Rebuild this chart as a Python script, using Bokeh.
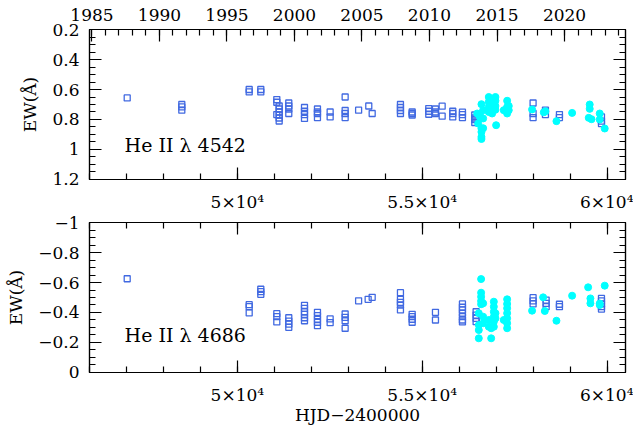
from bokeh.plotting import figure
from bokeh.layouts import column
from bokeh.models import (Range1d, LinearAxis, SingleIntervalTicker,
                          CustomJSTickFormatter, Label)
from bokeh.embed import file_html
from bokeh.resources import INLINE

# He II 4542 - open squares (older spectra)
hjd_sq_4542 = [47020, 48497, 48497, 48497, 50320, 50320, 50634, 50634,
               51067, 51067, 51067, 51131, 51131, 51131, 51131, 51131, 51131,
               51391, 51391, 51391, 51391, 51816, 51816, 51816, 51816,
               52167, 52167, 52167, 52167, 52510, 52510,
               52916, 52916, 52916, 52916, 53280, 53555, 53647,
               54412, 54412, 54412, 54412, 54729, 54729, 54729,
               55178, 55178, 55178, 55359, 55359, 55359, 55540, 55540,
               55827, 55827, 55827, 56089, 56089, 56089,
               56422, 56422, 56422, 56422, 58000, 58000, 58000,
               58334, 58334, 58713, 58713, 59850, 59850, 59850]
ew_sq_4542 = [0.656, 0.700, 0.716, 0.738, 0.600, 0.616, 0.600, 0.616,
              0.667, 0.685, 0.767, 0.710, 0.730, 0.750, 0.770, 0.790, 0.810,
              0.690, 0.710, 0.730, 0.760, 0.720, 0.745, 0.767, 0.793,
              0.730, 0.750, 0.760, 0.787, 0.750, 0.783,
              0.650, 0.740, 0.760, 0.787, 0.738, 0.710, 0.760,
              0.700, 0.720, 0.740, 0.760, 0.750, 0.760, 0.770,
              0.727, 0.745, 0.765, 0.730, 0.750, 0.760, 0.711, 0.778,
              0.745, 0.760, 0.783, 0.751, 0.767, 0.787,
              0.770, 0.790, 0.800, 0.820, 0.690, 0.760, 0.787,
              0.738, 0.767, 0.767, 0.787, 0.783, 0.811, 0.827]

# He II 4542 - filled circles (recent spectra)
hjd_ci_4542 = [56487, 56514, 56560, 56560, 56603, 56603, 56603, 56603, 56603,
               56649, 56649, 56649,
               56801, 56801, 56801, 56801, 56892, 56892, 56892,
               56981, 56981, 56981, 56981, 57000,
               57206, 57298, 57298, 57298, 57342, 57342,
               57973, 58290, 58334, 58632, 59056, 59505, 59532, 59532,
               59580, 59803, 59803, 59938]
ew_ci_4542 = [0.760, 0.827, 0.765, 0.783, 0.698, 0.860, 0.883, 0.916, 0.930,
              0.738, 0.793, 0.858,
              0.650, 0.683, 0.716, 0.750, 0.693, 0.727, 0.760,
              0.650, 0.675, 0.710, 0.735, 0.838,
              0.738, 0.675, 0.716, 0.760, 0.710, 0.738,
              0.733, 0.752, 0.745, 0.811, 0.756, 0.789, 0.700, 0.729,
              0.798, 0.760, 0.800, 0.860]

# He II 4686 - open squares
hjd_sq_4686 = [47020, 50320, 50320, 50320, 50634, 50634, 50634,
               51067, 51067, 51067, 51391, 51391, 51391, 51391,
               51816, 51816, 51816, 51816, 51816, 51816,
               52167, 52167, 52167, 52167, 52167, 52510, 52510,
               52916, 52916, 52916, 52916, 53280, 53538, 53647,
               54412, 54412, 54412, 54412, 54412, 54729, 54729, 54729, 54729,
               55359, 55359, 56089, 56089, 56089, 56089, 56089, 56089, 56089,
               56459, 56459, 56459, 56459, 58000, 58000, 58000,
               58353, 58353, 58353, 58713, 58713,
               59850, 59850, 59850, 59850, 59850]
ew_sq_4686 = [-0.625, -0.452, -0.439, -0.397, -0.555, -0.539, -0.521,
              -0.392, -0.372, -0.337, -0.365, -0.343, -0.323, -0.301,
              -0.448, -0.428, -0.405, -0.388, -0.365, -0.345,
              -0.401, -0.379, -0.355, -0.335, -0.312, -0.357, -0.332,
              -0.390, -0.368, -0.345, -0.295, -0.478, -0.488, -0.501,
              -0.532, -0.488, -0.468, -0.450, -0.417, -0.388, -0.372, -0.355, -0.335,
              -0.401, -0.350, -0.457, -0.435, -0.417, -0.395, -0.372, -0.350, -0.337,
              -0.405, -0.383, -0.361, -0.339, -0.499, -0.477, -0.457,
              -0.483, -0.461, -0.439, -0.455, -0.439,
              -0.494, -0.477, -0.457, -0.439, -0.423]

# He II 4686 - filled circles
hjd_ci_4686 = [56531, 56531, 56531, 56531, 56594, 56594, 56594, 56594, 56594,
               56649, 56649, 56649, 56802, 56802, 56866, 56866,
               56938, 56938, 56938, 56938, 56938, 56938, 56982, 56982,
               57206, 57298, 57298, 57298, 57298, 57298, 57298, 57298,
               57973, 58272, 58317, 58632, 59056, 59489, 59551, 59551,
               59803, 59803, 59938]
ew_ci_4686 = [-0.395, -0.317, -0.283, -0.228, -0.623, -0.532, -0.505, -0.477, -0.455,
              -0.461, -0.372, -0.328, -0.350, -0.305, -0.228, -0.295,
              -0.472, -0.439, -0.405, -0.372, -0.339, -0.305, -0.395, -0.361,
              -0.350, -0.488, -0.457, -0.428, -0.395, -0.361, -0.328, -0.295,
              -0.412, -0.501, -0.410, -0.345, -0.512, -0.568, -0.494, -0.461,
              -0.450, -0.460, -0.579]

HJD_MIN, HJD_MAX = 46000, 60500
JD_1985 = 46066.5  # HJD-2400000 at 1985.0

FONT = "DejaVu Serif"
BLUE = "#4169e1"
CYAN = "#00ffff"

xfmt = CustomJSTickFormatter(code="return (tick/1e4) + '\u00d710\u2074';")
yfmt = CustomJSTickFormatter(code="""
const v = Math.round(tick*10)/10;
return v < 0 ? '\u2212' + (-v) : '' + v;
""")
nofmt = CustomJSTickFormatter(code="return '';")


def style_axis(ax, fmt, standoff=6):
    ax.formatter = fmt
    ax.major_tick_in = 12
    ax.major_tick_out = 0
    ax.minor_tick_in = 6
    ax.minor_tick_out = 0
    ax.axis_line_color = "black"
    ax.axis_line_width = 1.2
    ax.major_tick_line_width = 1.2
    ax.minor_tick_line_width = 1.2
    ax.major_label_text_font = FONT
    ax.major_label_text_font_size = "17px"
    ax.major_label_text_color = "black"
    ax.major_label_standoff = standoff
    ax.axis_label_text_font = FONT
    ax.axis_label_text_font_size = "17px"
    ax.axis_label_text_font_style = "normal"
    ax.axis_label_text_color = "black"
    ax.axis_label_standoff = -3


def xtick():
    return SingleIntervalTicker(interval=5000, num_minor_ticks=5)


def ytick():
    return SingleIntervalTicker(interval=0.2, num_minor_ticks=4)


def panel(ymin, ymax, top_years, bottom_title, btop):
    # small pad so the end ticks survive float rounding
    p = figure(frame_width=536, frame_height=150,
               x_range=Range1d(HJD_MIN, HJD_MAX),
               y_range=Range1d(ymax + 1e-6, ymin - 1e-6),
               x_axis_location=None, y_axis_location=None,
               toolbar_location=None, output_backend="svg",
               min_border_left=89, min_border_right=8,
               min_border_top=btop, min_border_bottom=0)
    p.xgrid.visible = False
    p.ygrid.visible = False
    p.outline_line_color = "black"
    p.outline_line_width = 1.2
    p.background_fill_color = "white"

    if top_years:
        y0 = 1985 + (HJD_MIN - JD_1985) / 365.25
        y1 = 1985 + (HJD_MAX - JD_1985) / 365.25
        p.extra_x_ranges = {"yr": Range1d(y0, y1)}
        top = LinearAxis(x_range_name="yr",
                         ticker=SingleIntervalTicker(interval=5, num_minor_ticks=5))
        style_axis(top, CustomJSTickFormatter(code="return '' + Math.round(tick);"), 9)
    else:
        top = LinearAxis(ticker=xtick())
        style_axis(top, nofmt, 0)
    p.add_layout(top, "above")

    bot = LinearAxis(ticker=xtick())
    style_axis(bot, xfmt, 12)
    if bottom_title:
        bot.axis_label = "HJD\u22122400000"
    p.add_layout(bot, "below")

    left = LinearAxis(ticker=ytick(), axis_label="EW(\u00c5)")
    style_axis(left, yfmt, 10)
    left.axis_label_standoff = 9
    p.add_layout(left, "left")

    right = LinearAxis(ticker=ytick())
    style_axis(right, nofmt, 0)
    p.add_layout(right, "right")
    return p


p1 = panel(0.2, 1.2, True, False, 29)
p1.scatter(hjd_sq_4542, ew_sq_4542, marker="square", size=6,
           fill_color=None, line_color=BLUE, line_width=1.3)
p1.scatter(hjd_ci_4542, ew_ci_4542, marker="circle", size=7,
           fill_color=CYAN, line_color=CYAN)
p1.add_layout(Label(x=46950, y=0.97, text="He II \u03bb 4542",
                    text_font=FONT, text_font_size="19px",
                    text_baseline="alphabetic", text_color="black"))

p2 = panel(-1.0, 0.0, False, True, 8)
p2.scatter(hjd_sq_4686, ew_sq_4686, marker="square", size=6,
           fill_color=None, line_color=BLUE, line_width=1.3)
p2.scatter(hjd_ci_4686, ew_ci_4686, marker="circle", size=7,
           fill_color=CYAN, line_color=CYAN)
p2.add_layout(Label(x=46950, y=-0.247, text="He II \u03bb 4686",
                    text_font=FONT, text_font_size="19px",
                    text_baseline="alphabetic", text_color="black"))

layout = column(p1, p2)
open("out.html", "w").write(file_html(layout, INLINE))
